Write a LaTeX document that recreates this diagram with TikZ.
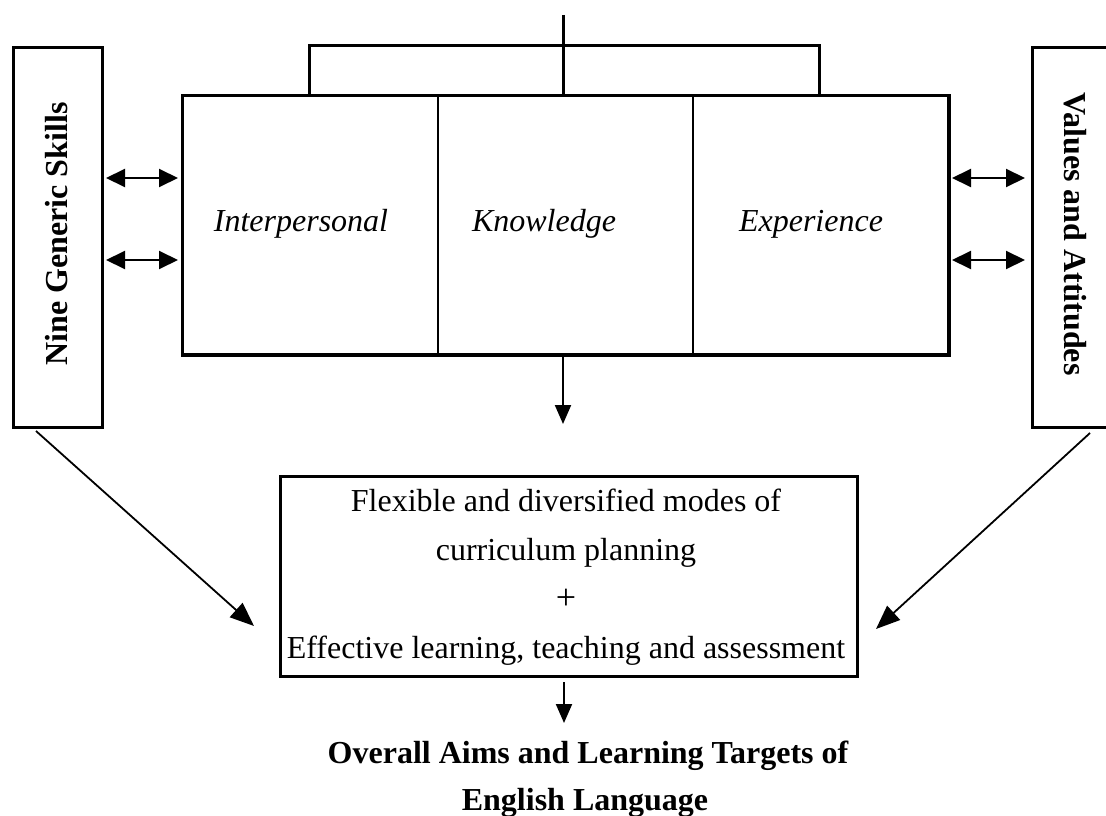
\documentclass[tikz,border=0pt]{standalone}
\usepackage{fontspec}
\setmainfont{Liberation Serif}
\usetikzlibrary{arrows.meta}
\begin{document}
\begin{tikzpicture}[x=1pt,y=-1pt,
  box/.style={draw, line width=3pt, inner sep=0pt, anchor=north west},
  col/.style={draw, line width=2pt, inner sep=0pt, anchor=north west, minimum width=255pt, minimum height=258pt},
  txt/.style={font=\fontsize{32}{49}\selectfont, inner sep=0pt},
  btxt/.style={font=\bfseries\fontsize{32}{48}\selectfont, inner sep=0pt},
  itxt/.style={font=\itshape\fontsize{32}{48}\selectfont, inner sep=0pt, anchor=base},
  dbl/.style={line width=2pt, {Triangle[length=19pt,width=18pt]}-{Triangle[length=19pt,width=18pt]}},
  arr/.style={line width=2pt, -{Triangle[length=19pt,width=16pt]}},
  darr/.style={line width=1.8pt, -{Triangle[length=24pt,width=19pt]}},
  ln/.style={line width=3pt}]
\useasboundingbox (0,0) rectangle (1106,816);
\clip (0,0) rectangle (1106,816);
% side boxes
\node[box, minimum width=89pt, minimum height=380pt] (nine) at (12,46) {};
\node[box, minimum width=89pt, minimum height=380pt] (vals) at (1031,46) {};
\node[btxt, rotate=90] (ninet) at (57,234) {Nine Generic Skills};
\node[btxt, rotate=-90] (valst) at (1075,234) {Values and Attitudes};
% central three columns
\node[col] (c1) at (182,95) {};
\node[col] (c2) at (437,95) {};
\node[col] (c3) at (692,95) {};
\draw[ln] (c1.north west) -- (c3.north east) -- (c3.south east) -- (c1.south west) -- cycle;
\node[itxt] (inter) at (301,231) {Interpersonal};
\node[itxt] (know) at (544,231) {Knowledge};
\node[itxt] (exper) at (811,231) {Experience};
% top bracket
\coordinate (top) at (563,15);
\draw[ln] (c1.north west -| 309,0) -- (309,46) -- (819,46) -- (c3.north west -| 819,0);
\draw[ln] (top) -- (c2.north west -| top);
% double arrows
\draw[dbl, shorten <=2pt, shorten >=4pt] (nine.east |- 0,178) -- (c1.west |- 0,178);
\draw[dbl, shorten <=2pt, shorten >=4pt] (nine.east |- 0,260) -- (c1.west |- 0,260);
\draw[dbl, shorten <=3pt, shorten >=6pt] (c3.east |- 0,178) -- (vals.west |- 0,178);
\draw[dbl, shorten <=3pt, shorten >=6pt] (c3.east |- 0,260) -- (vals.west |- 0,260);
% lower box
\node[box, minimum width=577pt, minimum height=200pt] (bot) at (279,475) {};
\node[txt, align=center] (plan) at (566,577) {Flexible and diversified modes of\\curriculum planning\\{\fontsize{36}{49}\selectfont +}\\Effective learning, teaching and assessment};
% arrows to lower box
\coordinate (tipc) at (563,424);
\draw[arr] (c2.south -| tipc) -- (tipc);
\coordinate (ls) at (36,431);
\coordinate (lt) at (254,626);
\coordinate (rs) at (1090,433);
\coordinate (rt) at (876,629);
\draw[darr] (ls) -- (lt);
\draw[darr] (rs) -- (rt);
% goal text
\node[btxt, anchor=base] (goal1) at (588,763) {Overall Aims and Learning Targets of};
\node[btxt, anchor=base] (goal2) at (585,810) {English Language};
\coordinate (tipb) at (564,723);
\draw[arr] (bot.south -| tipb) ++(0,4) -- (tipb);
\end{tikzpicture}
\end{document}
